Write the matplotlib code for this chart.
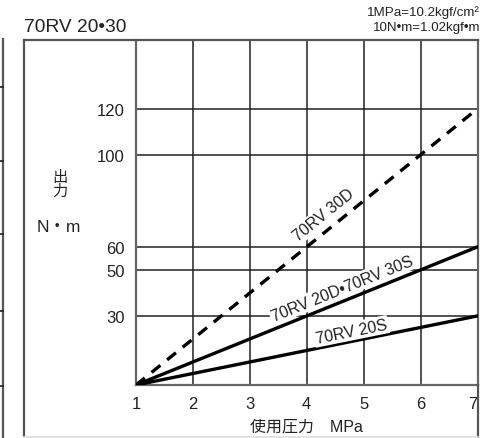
import numpy as np
import matplotlib
matplotlib.use("Agg")
import matplotlib.pyplot as plt
from matplotlib.lines import Line2D

plt.rcParams['font.family'] = ['Liberation Sans', 'Noto Sans CJK JP']

# Output torque vs. working pressure for the 70RV 20/30 actuators
pressure = [1, 7]
torque_30d = [0, 120]
torque_20d_30s = [0, 60]
torque_20s = [0, 30]

x_ticks = [1, 2, 3, 4, 5, 6, 7]
y_ticks = [30, 50, 60, 100, 120]

series_labels = ["70RV 30D", "70RV 20D•70RV 30S", "70RV 20S"]
label_pos = [(4.30, 74.0), (4.62, 42.0), (4.78, 23.3)]

W, H = 497, 439
fig = plt.figure(figsize=(W / 100, H / 100), dpi=100)

ax_l, ax_r, ax_b, ax_t = 136, 477.5, 386, 40.7
ax = fig.add_axes([ax_l / W, 1 - ax_b / H, (ax_r - ax_l) / W, (ax_b - ax_t) / H])
ax.set_xlim(1, 7)
ax.set_ylim(0, 150)

# grid
for xv in x_ticks[1:-1]:
    ax.axvline(xv, color='#222222', lw=1.1, zorder=1)
for yv in y_ticks:
    ax.axhline(yv, color='#222222', lw=1.1, zorder=1)

ax.plot(pressure, torque_30d, color='black', lw=2.4, ls=(0, (3.4, 2.6)), zorder=3)
ax.plot(pressure, torque_20d_30s, color='black', lw=2.4, zorder=3)
ax.plot(pressure, torque_20s, color='black', lw=2.4, zorder=3)

ax.set_xticks(x_ticks)
ax.set_yticks(y_ticks)
ax.tick_params(length=0, labelsize=12, colors='#222222', pad=8)
ax.tick_params(axis='x', pad=8)
xlabels = ax.get_xticklabels()
xlabels[-1].set_horizontalalignment('right')
for s in ax.spines.values():
    s.set_color('#666666')
    s.set_linewidth(1.6)
ax.spines['top'].set_visible(False)

fig.canvas.draw()

def screen_angle(xs, ys):
    p = ax.transData.transform(np.column_stack([xs, ys]))
    return np.degrees(np.arctan2(p[1, 1] - p[0, 1], p[1, 0] - p[0, 0]))

for lab, (lx, ly), ys in zip(series_labels, label_pos,
                             [torque_30d, torque_20d_30s, torque_20s]):
    ang = screen_angle(pressure, ys)
    ax.text(lx, ly, lab, rotation=ang, rotation_mode='anchor',
            ha='center', va='center', fontsize=11.5, color='#222222', zorder=4,
            bbox=dict(boxstyle='square,pad=0.1', fc='white', ec='none'))

ax.text(0.5, -0.118, "使用圧力　MPa", transform=ax.transAxes, ha='center',
        va='center', fontsize=11.5, color='#222222')

# outer frame
def fx(px):
    return px / W

def fy(py):
    return 1 - py / H

frame = '#555555'
fig.add_artist(Line2D([fx(23.5), fx(23.5)], [fy(40.7), fy(437)], color=frame, lw=1.6))
fig.add_artist(Line2D([fx(23.5), fx(477.5)], [fy(40.7), fy(40.7)], color=frame, lw=1.6))
fig.add_artist(Line2D([fx(477.5), fx(477.5)], [fy(386), fy(439)], color=frame, lw=1.6))
fig.add_artist(Line2D([fx(23.5), fx(477.5)], [fy(437.5), fy(437.5)], color='#dddddd', lw=1.2))

# edge of the neighbouring panel
fig.add_artist(Line2D([fx(2.5), fx(2.5)], [fy(40), fy(439)], color=frame, lw=1.6))
for ty in [88, 162, 235, 312, 387]:
    fig.add_artist(Line2D([fx(0), fx(3)], [fy(ty), fy(ty)], color='#222222', lw=1.2))

fig.text(fx(24), fy(27), "70RV 20•30", ha='left', va='center', fontsize=13.8, color='#222222')
fig.text(fx(480), fy(12.5), "1MPa=10.2kgf/cm²", ha='right', va='center', fontsize=9.6, color='#222222')
fig.text(fx(480), fy(28), "10N•m=1.02kgf•m", ha='right', va='center', fontsize=9.6, color='#222222')

fig.text(fx(60), fy(185), "出\n力", ha='center', va='center', fontsize=11,
         color='#222222', linespacing=0.95)
fig.text(fx(59), fy(227), "N・m", ha='center', va='center', fontsize=12.5, color='#222222')

fig.savefig("out.png", dpi=100)
